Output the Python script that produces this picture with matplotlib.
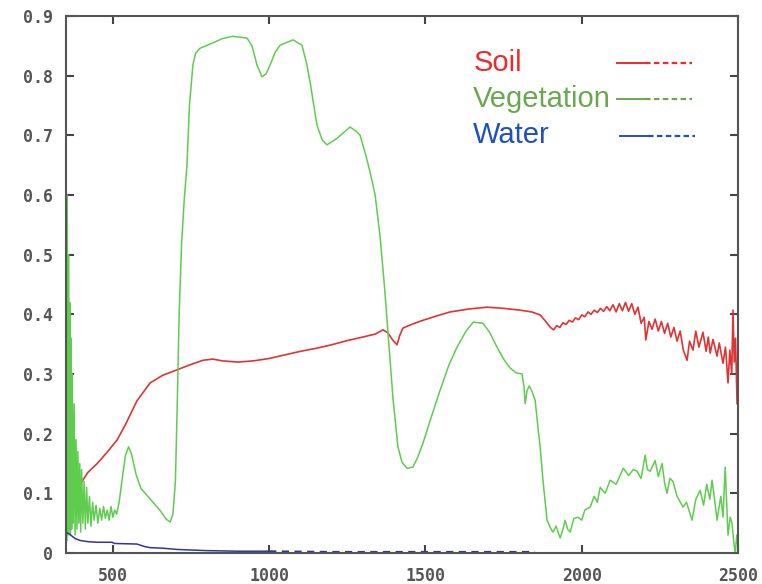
import numpy as np
import matplotlib.pyplot as plt
from matplotlib.lines import Line2D

# wavelength (nm) / reflectance
soil_wl = [400, 420, 450, 480, 513, 540, 577, 619, 660, 705, 750, 788, 820, 850, 900, 950,
           1000, 1050, 1100, 1150, 1200, 1250, 1300, 1340, 1364, 1380, 1395, 1409, 1418, 1428,
           1460, 1492, 1540, 1579, 1640, 1697, 1750, 1803, 1840, 1867, 1885, 1900, 1910, 1920,
           1930, 1940, 1950, 1960, 1970, 1980, 1990, 2000, 2010, 2020, 2030, 2040, 2050, 2060,
           2070, 2080, 2090, 2100, 2110, 2120, 2130, 2140, 2150, 2160, 2170, 2180, 2190, 2200,
           2205, 2215, 2225, 2235, 2245, 2255, 2265, 2275, 2285, 2295, 2305, 2315, 2325, 2337,
           2345, 2356, 2365, 2375, 2388, 2398, 2405, 2411, 2420, 2433, 2440, 2452, 2460, 2468,
           2474, 2480, 2484, 2488, 2492, 2497, 2500]
soil_val = [0.119, 0.135, 0.150, 0.168, 0.189, 0.215, 0.255, 0.285, 0.298, 0.307, 0.316, 0.323,
            0.325, 0.322, 0.320, 0.322, 0.326, 0.332, 0.338, 0.343, 0.349, 0.356, 0.362, 0.367,
            0.374, 0.369, 0.357, 0.349, 0.365, 0.377, 0.384, 0.390, 0.398, 0.404, 0.409, 0.412,
            0.410, 0.407, 0.404, 0.399, 0.388, 0.378, 0.374, 0.381, 0.378, 0.386, 0.383, 0.390,
            0.387, 0.394, 0.391, 0.399, 0.396, 0.404, 0.400, 0.407, 0.403, 0.410, 0.405, 0.413,
            0.406, 0.416, 0.404, 0.418, 0.406, 0.420, 0.405, 0.418, 0.400, 0.412, 0.385, 0.395,
            0.357, 0.388, 0.375, 0.392, 0.372, 0.388, 0.368, 0.385, 0.362, 0.378, 0.355, 0.372,
            0.340, 0.323, 0.355, 0.340, 0.372, 0.345, 0.370, 0.338, 0.362, 0.335, 0.358, 0.330,
            0.352, 0.318, 0.345, 0.285, 0.340, 0.300, 0.407, 0.320, 0.360, 0.250, 0.340]

veg_wl = [350, 352, 354, 356, 358, 360, 362, 364, 366, 368, 370, 373, 376, 379, 382, 385, 388,
          391, 394, 397, 400, 404, 408, 412, 416, 420, 425, 430, 435, 440, 446, 452, 458, 464,
          470, 476, 482, 488, 494, 500, 506, 512, 520, 530, 540, 550, 560, 575, 590, 620, 650,
          670, 683, 692, 700, 706, 712, 720, 728, 737, 745, 756, 765, 779, 820, 850, 884, 929,
          945, 961, 977, 990, 1003, 1020, 1035, 1076, 1105, 1120, 1131, 1153, 1170, 1185, 1217,
          1259, 1280, 1291, 1310, 1323, 1339, 1355, 1370, 1380, 1396, 1412, 1425, 1441, 1460,
          1475, 1492, 1520, 1547, 1575, 1601, 1630, 1653, 1684, 1705, 1729, 1750, 1771, 1790,
          1809, 1815, 1819, 1825, 1832, 1840, 1851, 1860, 1867, 1876, 1889, 1900, 1908, 1918,
          1931, 1940, 1947, 1955, 1963, 1975, 1988, 2000, 2010, 2027, 2040, 2050, 2059, 2075,
          2091, 2110, 2133, 2150, 2165, 2177, 2190, 2203, 2210, 2219, 2235, 2245, 2257, 2265,
          2273, 2282, 2292, 2305, 2324, 2335, 2353, 2365, 2379, 2390, 2400, 2410, 2417, 2425,
          2433, 2445, 2452, 2459, 2464, 2468, 2475, 2481, 2486, 2491, 2496, 2500]
veg_val = [0.72, 0.02, 0.60, 0.03, 0.50, 0.04, 0.42, 0.03, 0.36, 0.04, 0.30, 0.05, 0.25, 0.03,
           0.19, 0.04, 0.17, 0.05, 0.15, 0.035, 0.14, 0.05, 0.12, 0.04, 0.11, 0.05, 0.095, 0.045,
           0.085, 0.055, 0.08, 0.05, 0.075, 0.055, 0.078, 0.058, 0.072, 0.055, 0.078, 0.06, 0.072,
           0.065, 0.085, 0.125, 0.163, 0.178, 0.165, 0.13, 0.108, 0.09, 0.072, 0.057, 0.052,
           0.065, 0.12, 0.25, 0.40, 0.52, 0.59, 0.65, 0.75, 0.818, 0.838, 0.846, 0.855, 0.862,
           0.866, 0.863, 0.85, 0.818, 0.798, 0.803, 0.818, 0.840, 0.851, 0.860, 0.851, 0.82,
           0.789, 0.717, 0.692, 0.684, 0.695, 0.714, 0.706, 0.70, 0.665, 0.638, 0.60, 0.53, 0.44,
           0.37, 0.26, 0.178, 0.152, 0.142, 0.144, 0.16, 0.184, 0.23, 0.273, 0.315, 0.345, 0.372,
           0.387, 0.385, 0.37, 0.345, 0.325, 0.31, 0.302, 0.30, 0.28, 0.25, 0.272, 0.28, 0.272,
           0.256, 0.21, 0.178, 0.122, 0.055, 0.042, 0.035, 0.045, 0.025, 0.04, 0.055, 0.04, 0.035,
           0.058, 0.06, 0.055, 0.072, 0.077, 0.095, 0.085, 0.11, 0.10, 0.122, 0.115, 0.142, 0.13,
           0.14, 0.137, 0.125, 0.164, 0.14, 0.137, 0.155, 0.128, 0.15, 0.118, 0.10, 0.125, 0.12,
           0.095, 0.077, 0.085, 0.055, 0.09, 0.105, 0.08, 0.115, 0.09, 0.122, 0.09, 0.055, 0.095,
           0.06, 0.144, 0.08, 0.03, 0.06, 0.05, 0.02, 0.0, 0.03, 0.01]

water_wl = [350, 360, 370, 380, 395, 420, 450, 497, 505, 577, 600, 619, 660, 705, 750, 800,
            900, 1000, 1200, 1400, 1600, 1850]
water_val = [0.035, 0.032, 0.028, 0.024, 0.021, 0.019, 0.018, 0.018, 0.016, 0.015, 0.011, 0.009,
             0.008, 0.006, 0.005, 0.004, 0.003, 0.003, 0.002, 0.002, 0.002, 0.002]

legend_names = ['Soil', 'Vegetation', 'Water']
legend_text_colors = ['#ee2a2a', '#6aa84f', '#1f4fc0']

x_ticks = [500, 1000, 1500, 2000, 2500]
y_ticks = [0, 0.1, 0.2, 0.3, 0.4, 0.5, 0.6, 0.7, 0.8, 0.9]
y_tick_labels = ['0', '0.1', '0.2', '0.3', '0.4', '0.5', '0.6', '0.7', '0.8', '0.9']

fig = plt.figure(figsize=(7.62, 5.84), dpi=100)
ax = fig.add_axes([66/762, 1 - 553/584, 672/762, 537/584])

line_cols = ['#dd3434', '#5fcc4f', '#34349a']
ax.plot(soil_wl, soil_val, color=line_cols[0], lw=1.2)
ax.plot(veg_wl, veg_val, color=line_cols[1], lw=1.1)
wwl = np.array(water_wl)
wv = np.array(water_val)
ax.plot(wwl[wwl <= 1000], wv[wwl <= 1000], color=line_cols[2], lw=1.1)
ax.plot(wwl[wwl >= 1000], wv[wwl >= 1000], color=line_cols[2], lw=1.3, ls=(0, (4, 3)))

ax.set_xlim(350, 2500)
ax.set_ylim(0, 0.9)
ax.set_xticks(x_ticks)
ax.set_xticklabels([str(t) for t in x_ticks])
ax.set_yticks(y_ticks)
ax.set_yticklabels(y_tick_labels)
ax.tick_params(direction='in', length=6, width=1.5, color='#444444',
               top=True, right=True, labelsize=12, labelcolor='#555555')
ax.tick_params(axis='y', pad=9)
ax.tick_params(axis='x', pad=10)
for lab in ax.get_xticklabels() + ax.get_yticklabels():
    lab.set_family('DejaVu Sans Mono')
    lab.set_fontweight('bold')
for sp in ax.spines.values():
    sp.set_color('#555555')
    sp.set_linewidth(1.5)

# hand drawn legend: text left, sample line (solid then dashed) right
text_y = [0.8976, 0.8305, 0.7635]
line_y = [0.9125, 0.8454, 0.7765]
line_x0 = [0.820, 0.820, 0.8244]
for i in range(3):
    ax.text(0.606, text_y[i], legend_names[i], transform=ax.transAxes, va='baseline',
            ha='left', fontsize=21, color=legend_text_colors[i], family='Liberation Sans')
    x0 = line_x0[i]
    ax.add_line(Line2D([x0, x0 + 0.042], [line_y[i]] * 2, transform=ax.transAxes,
                       color=legend_text_colors[i], lw=1.4))
    ax.add_line(Line2D([x0 + 0.042, x0 + 0.1115], [line_y[i]] * 2, transform=ax.transAxes,
                       color=legend_text_colors[i], lw=1.6, ls=(0, (2.5, 1.5))))

fig.savefig('out.png', dpi=100)
